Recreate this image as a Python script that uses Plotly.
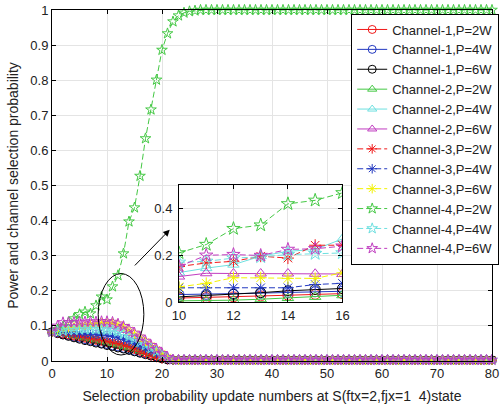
import plotly.graph_objects as go

# ---------------- data ----------------
x_main = list(range(0, 81))

# values for x = 0..24
ch1_2w_head = [0.083, 0.080, 0.077, 0.074, 0.071, 0.068, 0.065, 0.062, 0.059, 0.056, 0.053, 0.050, 0.046, 0.042, 0.038, 0.033, 0.028, 0.023, 0.018, 0.013, 0.008, 0.005, 0.003, 0.003, 0.003]
ch1_4w_head = [0.083, 0.079, 0.075, 0.072, 0.068, 0.065, 0.061, 0.058, 0.054, 0.050, 0.047, 0.043, 0.040, 0.036, 0.032, 0.028, 0.024, 0.020, 0.016, 0.012, 0.008, 0.004, 0.003, 0.003, 0.003]
ch1_6w_head = [0.083, 0.078, 0.074, 0.070, 0.066, 0.062, 0.058, 0.055, 0.051, 0.048, 0.044, 0.041, 0.037, 0.034, 0.030, 0.026, 0.022, 0.018, 0.014, 0.010, 0.006, 0.003, 0.003, 0.003, 0.003]
ch2_2w_head = [0.083, 0.081, 0.078, 0.075, 0.072, 0.069, 0.066, 0.063, 0.060, 0.057, 0.054, 0.050, 0.046, 0.042, 0.038, 0.034, 0.029, 0.024, 0.019, 0.014, 0.009, 0.005, 0.003, 0.003, 0.003]
ch2_4w_head = [0.083, 0.084, 0.085, 0.085, 0.085, 0.084, 0.083, 0.082, 0.081, 0.080, 0.078, 0.076, 0.072, 0.067, 0.061, 0.054, 0.047, 0.040, 0.032, 0.024, 0.016, 0.008, 0.003, 0.003, 0.003]
ch2_6w_head = [0.083, 0.088, 0.092, 0.095, 0.097, 0.099, 0.100, 0.101, 0.101, 0.101, 0.100, 0.098, 0.094, 0.087, 0.079, 0.070, 0.061, 0.051, 0.041, 0.031, 0.021, 0.011, 0.004, 0.003, 0.003]
ch3_2w_head = [0.083, 0.080, 0.077, 0.075, 0.072, 0.070, 0.067, 0.065, 0.062, 0.060, 0.057, 0.054, 0.050, 0.046, 0.041, 0.035, 0.028, 0.021, 0.015, 0.010, 0.006, 0.004, 0.003, 0.003, 0.003]
ch3_4w_head = [0.083, 0.082, 0.081, 0.080, 0.079, 0.078, 0.077, 0.076, 0.075, 0.074, 0.072, 0.070, 0.066, 0.061, 0.056, 0.050, 0.043, 0.036, 0.029, 0.022, 0.014, 0.007, 0.003, 0.003, 0.003]
ch3_6w_head = [0.083, 0.087, 0.091, 0.094, 0.097, 0.100, 0.102, 0.104, 0.106, 0.108, 0.109, 0.108, 0.104, 0.097, 0.088, 0.077, 0.066, 0.055, 0.044, 0.033, 0.022, 0.011, 0.004, 0.003, 0.003]
ch4_2w_head = [0.083, 0.090, 0.098, 0.110, 0.121, 0.133, 0.140, 0.135, 0.158, 0.183, 0.175, 0.212, 0.244, 0.306, 0.397, 0.437, 0.527, 0.634, 0.716, 0.801, 0.886, 0.933, 0.967, 0.984, 0.992]
ch4_4w_head = [0.083, 0.084, 0.086, 0.087, 0.088, 0.089, 0.090, 0.090, 0.090, 0.090, 0.089, 0.087, 0.083, 0.077, 0.070, 0.062, 0.054, 0.045, 0.036, 0.027, 0.018, 0.009, 0.004, 0.003, 0.003]
ch4_6w_head = [0.083, 0.100, 0.110, 0.110, 0.111, 0.111, 0.112, 0.112, 0.112, 0.113, 0.113, 0.111, 0.106, 0.099, 0.090, 0.080, 0.069, 0.057, 0.045, 0.034, 0.022, 0.011, 0.004, 0.003, 0.003]

# values for x = 25..80
tail_small = [0.003, 0.003, 0.003, 0.003, 0.003, 0.003, 0.003, 0.003, 0.003, 0.003,
              0.003, 0.003, 0.003, 0.003, 0.003, 0.003, 0.003, 0.003, 0.003, 0.003,
              0.003, 0.003, 0.003, 0.003, 0.003, 0.003, 0.003, 0.003, 0.003, 0.003,
              0.003, 0.003, 0.003, 0.003, 0.003, 0.003, 0.003, 0.003, 0.003, 0.003,
              0.003, 0.003, 0.003, 0.003, 0.003, 0.003, 0.003, 0.003, 0.003, 0.003,
              0.003, 0.003, 0.003, 0.003, 0.003, 0.003]
tail_ch4_2w = [0.996, 0.998, 1.0, 1.0, 1.0, 1.0, 1.0, 1.0, 1.0, 1.0,
               1.0, 1.0, 1.0, 1.0, 1.0, 1.0, 1.0, 1.0, 1.0, 1.0,
               1.0, 1.0, 1.0, 1.0, 1.0, 1.0, 1.0, 1.0, 1.0, 1.0,
               1.0, 1.0, 1.0, 1.0, 1.0, 1.0, 1.0, 1.0, 1.0, 1.0,
               1.0, 1.0, 1.0, 1.0, 1.0, 1.0, 1.0, 1.0, 1.0, 1.0,
               1.0, 1.0, 1.0, 1.0, 1.0, 1.0]

# inset values for x = 10..16
x_inset = [10, 11, 12, 13, 14, 15, 16]
in_ch1_2w = [0.017, 0.019, 0.022, 0.026, 0.029, 0.033, 0.036]
in_ch1_4w = [0.032, 0.033, 0.035, 0.038, 0.041, 0.044, 0.046]
in_ch1_6w = [0.022, 0.027, 0.033, 0.040, 0.048, 0.054, 0.058]
in_ch2_2w = [0.005, 0.006, 0.008, 0.012, 0.017, 0.022, 0.029]
in_ch2_4w = [0.126, 0.145, 0.160, 0.196, 0.217, 0.225, 0.270]
in_ch2_6w = [0.109, 0.123, 0.122, 0.122, 0.122, 0.121, 0.120]
in_ch3_2w = [0.152, 0.167, 0.174, 0.196, 0.188, 0.243, 0.243]
in_ch3_4w = [0.061, 0.061, 0.061, 0.061, 0.061, 0.075, 0.080]
in_ch3_6w = [0.065, 0.080, 0.104, 0.104, 0.101, 0.101, 0.125]
in_ch4_2w = [0.210, 0.246, 0.314, 0.329, 0.420, 0.435, 0.467]
in_ch4_4w = [0.170, 0.174, 0.188, 0.193, 0.203, 0.207, 0.210]
in_ch4_6w = [0.152, 0.200, 0.203, 0.199, 0.225, 0.228, 0.239]

names = ["Channel-1,P=2W", "Channel-1,P=4W", "Channel-1,P=6W",
         "Channel-2,P=2W", "Channel-2,P=4W", "Channel-2,P=6W",
         "Channel-3,P=2W", "Channel-3,P=4W", "Channel-3,P=6W",
         "Channel-4,P=2W", "Channel-4,P=4W", "Channel-4,P=6W"]

main_series = [ch1_2w_head + tail_small, ch1_4w_head + tail_small, ch1_6w_head + tail_small,
               ch2_2w_head + tail_small, ch2_4w_head + tail_small, ch2_6w_head + tail_small,
               ch3_2w_head + tail_small, ch3_4w_head + tail_small, ch3_6w_head + tail_small,
               ch4_2w_head + tail_ch4_2w, ch4_4w_head + tail_small, ch4_6w_head + tail_small]
inset_series = [in_ch1_2w, in_ch1_4w, in_ch1_6w, in_ch2_2w, in_ch2_4w, in_ch2_6w,
                in_ch3_2w, in_ch3_4w, in_ch3_6w, in_ch4_2w, in_ch4_4w, in_ch4_6w]

# ---------------- styles ----------------
RED, BLUE, BLACK = "#f01818", "#2238c0", "#000000"
GREEN, CYAN, MAGENTA, YELLOW = "#44c844", "#6ee0e0", "#c03cc0", "#f2f200"
colors = [RED, BLUE, BLACK, GREEN, CYAN, MAGENTA, RED, BLUE, YELLOW, GREEN, CYAN, MAGENTA]
symbols = ["circle-open"] * 3 + ["triangle-up-open"] * 3 + ["asterisk-open"] * 3 + ["star-open"] * 3
dashes = ["solid"] * 6 + ["6px,3px"] * 6

FONT = "Liberation Sans, Arial, Helvetica, sans-serif"

fig = go.Figure()
for i in range(12):
    fig.add_trace(go.Scatter(
        x=x_main, y=main_series[i], name=names[i], mode="lines+markers",
        line=dict(color=colors[i], width=1, dash=dashes[i]),
        marker=dict(symbol=symbols[i], size=8, color=colors[i],
                    line=dict(color=colors[i], width=1)),
        cliponaxis=False, xaxis="x", yaxis="y"))

for i in range(12):
    fig.add_trace(go.Scatter(
        x=x_inset, y=inset_series[i], mode="lines+markers", showlegend=False,
        line=dict(color=colors[i], width=1, dash=dashes[i]),
        marker=dict(symbol=symbols[i], size=10, color=colors[i],
                    line=dict(color=colors[i], width=1)),
        cliponaxis=True, xaxis="x2", yaxis="y2"))

axis_common = dict(showline=True, linecolor="black", linewidth=1, mirror="ticks",
                   ticks="inside", ticklen=4, tickcolor="black",
                   showgrid=True, gridcolor="#e4e4e4", gridwidth=1, zeroline=False,
                   tickfont=dict(family=FONT, size=13, color="#222"))

fig.update_layout(
    width=503, height=410,
    margin=dict(l=52, r=4, t=10, b=49),
    paper_bgcolor="white", plot_bgcolor="white",
    font=dict(family=FONT, size=13, color="#222"),
    xaxis=dict(range=[0, 80], dtick=10, domain=[0, 1],
               title=dict(text="Selection probability update numbers at S(ftx=2,fjx=1\u00a0\u00a04)state",
                          font=dict(family=FONT, size=14, color="#222"), standoff=11),
               **axis_common),
    yaxis=dict(range=[0, 1], dtick=0.1, domain=[0, 1],
               title=dict(text="Power and channel selection probability",
                          font=dict(family=FONT, size=14, color="#222"), standoff=8),
               **axis_common),
    xaxis2=dict(range=[10, 16], tickvals=[10, 12, 14, 16], domain=[0.2886, 0.660],
                anchor="y2", ticklabelstandoff=1, **axis_common),
    yaxis2=dict(range=[0, 0.5], tickvals=[0, 0.2, 0.4], domain=[0.168, 0.501],
                anchor="x2", ticklabelstandoff=3, **axis_common),
    legend=dict(x=0.68, y=0.99, xanchor="left", yanchor="top",
                bgcolor="white", bordercolor="black", borderwidth=1,
                font=dict(family=FONT, size=13, color="#222"),
                tracegroupgap=0, itemwidth=30),
    shapes=[dict(type="circle", xref="x", yref="y", x0=8.4, x1=16.7, y0=0.017, y1=0.249,
                 line=dict(color="black", width=1), fillcolor="rgba(0,0,0,0)")],
    annotations=[dict(x=21.4, y=0.374, ax=14.8, ay=0.268, xref="x", yref="y",
                      axref="x", ayref="y", text="", showarrow=True,
                      arrowhead=2, arrowsize=1.3, arrowwidth=1, arrowcolor="black")],
    showlegend=True,
)

fig.write_html("out.html")
